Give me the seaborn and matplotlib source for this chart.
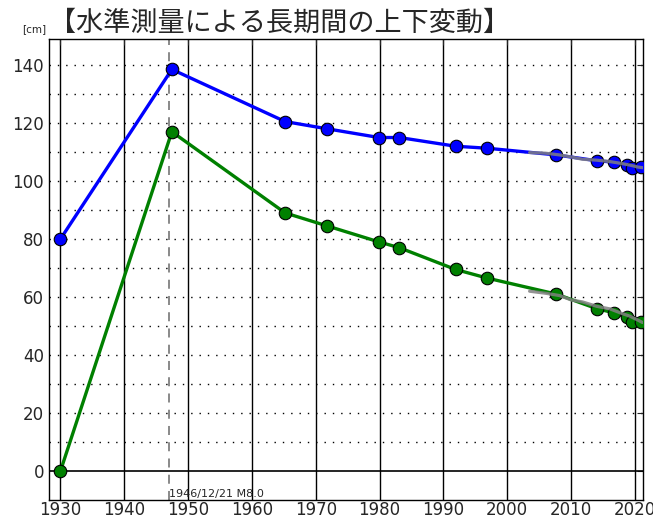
import numpy as np
import pandas as pd
import seaborn as sns
import matplotlib
matplotlib.use("Agg")
import matplotlib.pyplot as plt
from matplotlib.ticker import MultipleLocator

# survey epochs (decimal years)
years = [1930.0, 1947.45, 1965.2, 1971.8, 1979.9, 1983.1, 1991.9, 1996.9,
         2007.7, 2014.0, 2016.8, 2018.7, 2019.6, 2020.9]
upper = [80, 138.5, 120.5, 118, 115, 115, 112, 111.3,
         109, 107, 106.5, 105.5, 104.5, 105]
lower = [0, 117, 89, 84.5, 79, 77, 69.5, 66.5,
         61, 56, 54.5, 53, 51.5, 51.5]

# gray continuous traces
gps_years = [2003.5, 2006.0, 2008.2, 2010.0, 2011.8, 2014.0, 2016.1, 2018.0, 2019.2, 2020.5, 2021.2]
gps_upper = [109.8, 109.6, 109.0, 108.3, 107.5, 107.2, 106.7, 106.0, 105.5, 104.8, 104.6]
gps_lower = [62.0, 61.3, 60.5, 59.0, 58.3, 56.8, 55.9, 54.3, 53.4, 52.0, 51.2]

quake_year = 1946.97
quake_label = "1946/12/21 M8.0"
title = "【水準測量による長期間の上下変動】"

sns.set_style("white")
plt.rcParams['font.family'] = ['DejaVu Sans']

fig = plt.figure(figsize=(6.53, 5.19), dpi=100)
ax = fig.add_axes([0.075, 0.0366, 0.91, 0.8884])

df = pd.DataFrame({"year": years, "upper": upper, "lower": lower})
gps = pd.DataFrame({"year": gps_years, "upper": gps_upper, "lower": gps_lower})

ax.axvline(quake_year, color="gray", lw=1.3, ls=(0, (5, 4)), zorder=1)
ax.axhline(0, color="black", lw=1.2, zorder=1)

sns.lineplot(data=df, x="year", y="upper", ax=ax, color="blue", lw=2.4,
             marker="o", markersize=9, markeredgecolor="black",
             markeredgewidth=0.8, sort=False, zorder=3)
sns.lineplot(data=df, x="year", y="lower", ax=ax, color="green", lw=2.4,
             marker="o", markersize=9, markeredgecolor="black",
             markeredgewidth=0.8, sort=False, zorder=3)
sns.lineplot(data=gps, x="year", y="upper", ax=ax, color="gray", lw=2.3,
             alpha=0.85, sort=False, zorder=4)
sns.lineplot(data=gps, x="year", y="lower", ax=ax, color="gray", lw=2.3,
             alpha=0.85, sort=False, zorder=4)

ax.set_xlim(1928.2, 2021.3)
ax.set_ylim(-10, 149)
ax.xaxis.set_major_locator(MultipleLocator(10))
ax.yaxis.set_major_locator(MultipleLocator(20))
ax.yaxis.set_minor_locator(MultipleLocator(10))

ax.grid(False)
for x in range(1930, 2021, 10):
    ax.axvline(x, color="black", lw=1, zorder=0)
for y in range(10, 149, 10):
    ax.axhline(y, color="black", lw=1, ls=(0, (1, 5)), zorder=0)

ax.tick_params(axis="both", which="both", direction="in", labelsize=12,
               top=True, right=True, length=4)
ax.tick_params(axis="y", which="minor", length=2)
ax.tick_params(axis="x", pad=1)
ax.set_xlabel("")
ax.set_ylabel("")
for s in ax.spines.values():
    s.set_color("black")
    s.set_linewidth(1)

ax.text(quake_year + 0.1, -7.8, quake_label, fontsize=8, va="center", ha="left")
fig.text(0.034, 0.935, "[cm]", fontsize=7.5, va="bottom")
fig.text(0.075, 0.93, title, fontsize=19.5, va="bottom", ha="left",
         family=["Noto Sans CJK JP", "DejaVu Sans"])

fig.savefig("out.png", dpi=100)
